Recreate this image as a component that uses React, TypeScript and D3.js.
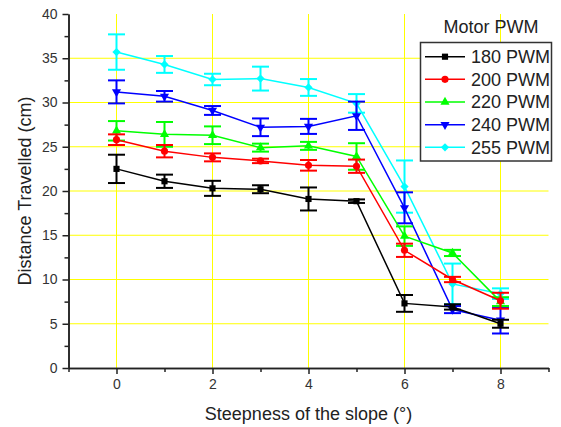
import { useEffect, useRef } from "react";
import * as d3 from "d3";

// slope angle (degrees)
const slopes = [0, 1, 2, 3, 4, 5, 6, 7, 8];

const seriesNames = ["180 PWM", "200 PWM", "220 PWM", "240 PWM", "255 PWM"];
const seriesColors = ["#000000", "#ff0000", "#00ff00", "#0000ff", "#00ffff"];
const seriesSymbols = ["square", "circle", "triangle", "triangleDown", "diamond"];

// distance travelled (cm)
const dist180 = [22.5, 21.1, 20.3, 20.2, 19.1, 18.85, 7.3, 6.9, 5.0];
const dist200 = [25.8, 24.5, 23.8, 23.4, 22.9, 22.8, 13.3, 10.0, 7.6];
const dist220 = [26.8, 26.4, 26.3, 24.9, 25.1, 23.9, 14.9, 13.0, 7.5];
const dist240 = [31.2, 30.7, 29.1, 27.2, 27.3, 28.5, 18.1, 6.6, 5.4];
const dist255 = [35.7, 34.3, 32.6, 32.7, 31.7, 29.9, 20.5, 9.5, 8.4];

// error (+/-)
const err180 = [1.6, 0.75, 0.85, 0.45, 1.3, 0.2, 0.95, 0.3, 0.45];
const err200 = [0.6, 0.7, 0.45, 0.25, 0.6, 0.75, 0.75, 0.3, 0.9];
const err220 = [1.1, 1.4, 1.0, 0.45, 0.45, 1.5, 1.1, 0.35, 0.5];
const err240 = [1.3, 0.6, 0.5, 1.0, 0.85, 1.6, 1.75, 0.4, 1.5];
const err255 = [2.0, 0.95, 0.65, 1.35, 0.95, 1.05, 2.95, 2.3, 0.6];

const xMajorTicks = [0, 2, 4, 6, 8];
const xMinorTicks = [-1, 1, 3, 5, 7, 9];
const yMajorTicks = [0, 5, 10, 15, 20, 25, 30, 35, 40];
const yMinorTicks = [2.5, 7.5, 12.5, 17.5, 22.5, 27.5, 32.5, 37.5];

const xTitle = "Steepness of the slope (°)";
const yTitle = "Distance Travelled (cm)";
const legendTitle = "Motor PWM";

const FONT = "'Liberation Sans', Arial, sans-serif";

function symbolPath(kind: string) {
  switch (kind) {
    case "square":
      return d3.symbol(d3.symbolSquare, 38)();
    case "circle":
      return d3.symbol(d3.symbolCircle, 40)();
    case "triangle":
      return d3.symbol(d3.symbolTriangle, 36)();
    case "triangleDown":
      return d3.symbol(d3.symbolTriangle, 36)();
    default:
      return d3.symbol(d3.symbolSquare, 34)();
  }
}

function symbolRotate(kind: string) {
  if (kind === "triangleDown") return 180;
  if (kind === "diamond") return 45;
  return 0;
}

export default function App() {
  const svgRef = useRef<SVGSVGElement>(null);

  useEffect(() => {
    if (!svgRef.current) return;
    const svg = d3.select(svgRef.current);
    svg.selectAll("*").remove();

    const values = [dist180, dist200, dist220, dist240, dist255];
    const errors = [err180, err200, err220, err240, err255];

    const x = d3.scaleLinear().domain([-1, 9]).range([68.5, 548.5]);
    const y = d3.scaleLinear().domain([0, 40]).range([368, 14]);

    // yellow grid
    const grid = svg.append("g").attr("stroke", "#ffff00").attr("stroke-width", 1);
    grid.selectAll("line.v")
      .data(xMajorTicks)
      .enter()
      .append("line")
      .attr("x1", d => x(d))
      .attr("x2", d => x(d))
      .attr("y1", y(0))
      .attr("y2", y(40));
    grid.selectAll("line.h")
      .data(yMajorTicks.filter(d => d > 0 && d < 40))
      .enter()
      .append("line")
      .attr("x1", x(-1))
      .attr("x2", x(9))
      .attr("y1", d => y(d))
      .attr("y2", d => y(d));

    // X axis
    const styleAxis = (g: any) => {
      g.select(".domain").attr("stroke", "#222").attr("stroke-width", 1.5);
      g.selectAll(".tick line").attr("stroke", "#222").attr("stroke-width", 1.5);
      g.selectAll(".tick text")
        .attr("fill", "#333")
        .attr("font-size", "14px")
        .attr("font-family", FONT);
    };

    svg.append("g")
      .attr("transform", `translate(0,${y(0)})`)
      .call(d3.axisBottom(x).tickValues(xMinorTicks).tickSize(4).tickSizeOuter(0).tickFormat(() => ""))
      .call(styleAxis);
    svg.append("g")
      .attr("transform", `translate(0,${y(0)})`)
      .call(d3.axisBottom(x).tickValues(xMajorTicks).tickSize(6).tickPadding(5).tickSizeOuter(0).tickFormat(d3.format("d")))
      .call(styleAxis);

    // Y axis
    svg.append("g")
      .attr("transform", `translate(${x(-1)},0)`)
      .call(d3.axisLeft(y).tickValues(yMinorTicks).tickSize(4).tickSizeOuter(0).tickFormat(() => ""))
      .call(styleAxis);
    svg.append("g")
      .attr("transform", `translate(${x(-1)},0)`)
      .call(d3.axisLeft(y).tickValues(yMajorTicks).tickSize(6).tickPadding(5).tickSizeOuter(0).tickFormat(d3.format("d")))
      .call(styleAxis);

    // axis titles
    svg.append("text")
      .attr("x", 308.5)
      .attr("y", 420)
      .attr("text-anchor", "middle")
      .attr("font-size", "18px")
      .attr("font-family", FONT)
      .attr("fill", "#222")
      .text(xTitle);
    svg.append("text")
      .attr("transform", `translate(31,${(y(0) + y(40)) / 2}) rotate(-90)`)
      .attr("text-anchor", "middle")
      .attr("font-size", "18px")
      .attr("font-family", FONT)
      .attr("fill", "#222")
      .text(yTitle);

    // series, last one drawn first
    const line = d3.line<number>()
      .x((_, i) => x(slopes[i]))
      .y(d => y(d));

    const order = [4, 3, 2, 1, 0];
    order.forEach(s => {
      const color = seriesColors[s];
      const g = svg.append("g");
      g.append("path")
        .datum(values[s])
        .attr("fill", "none")
        .attr("stroke", color)
        .attr("stroke-width", 1.5)
        .attr("d", line);

      const eb = g.append("g").attr("stroke", color).attr("stroke-width", 2);
      values[s].forEach((v, i) => {
        const cx = x(slopes[i]);
        const top = y(v + errors[s][i]);
        const bot = y(v - errors[s][i]);
        eb.append("line").attr("x1", cx).attr("x2", cx).attr("y1", top).attr("y2", bot);
        eb.append("line").attr("x1", cx - 8.5).attr("x2", cx + 8.5).attr("y1", top).attr("y2", top);
        eb.append("line").attr("x1", cx - 8.5).attr("x2", cx + 8.5).attr("y1", bot).attr("y2", bot);
      });

      g.selectAll("path.mark")
        .data(values[s])
        .enter()
        .append("path")
        .attr("class", "mark")
        .attr("d", symbolPath(seriesSymbols[s]))
        .attr("transform", (d, i) => `translate(${x(slopes[i])},${y(d)}) rotate(${symbolRotate(seriesSymbols[s])})`)
        .attr("fill", color);
    });

    // legend
    svg.append("text")
      .attr("x", 491)
      .attr("y", 32.5)
      .attr("text-anchor", "middle")
      .attr("font-size", "18px")
      .attr("font-family", FONT)
      .attr("fill", "#222")
      .text(legendTitle);

    const legend = svg.append("g");
    legend.append("rect")
      .attr("x", 420.5)
      .attr("y", 42.5)
      .attr("width", 131)
      .attr("height", 118.5)
      .attr("fill", "#fff")
      .attr("stroke", "#333")
      .attr("stroke-width", 1.5);

    seriesNames.forEach((name, s) => {
      const ly = 56.7 + s * 22.65;
      const color = seriesColors[s];
      legend.append("line")
        .attr("x1", 425)
        .attr("x2", 465)
        .attr("y1", ly)
        .attr("y2", ly)
        .attr("stroke", color)
        .attr("stroke-width", 1.5);
      legend.append("path")
        .attr("d", symbolPath(seriesSymbols[s]))
        .attr("transform", `translate(445,${ly}) rotate(${symbolRotate(seriesSymbols[s])})`)
        .attr("fill", color);
      legend.append("text")
        .attr("x", 471)
        .attr("y", ly)
        .attr("dy", "0.36em")
        .attr("font-size", "18px")
        .attr("font-family", FONT)
        .attr("fill", "#222")
        .text(name);
    });
  }, []);

  return (
    <svg
      ref={svgRef}
      width={561}
      height={427}
      style={{ position: "absolute", left: 0, top: 0, background: "#fff" }}
    />
  );
}
